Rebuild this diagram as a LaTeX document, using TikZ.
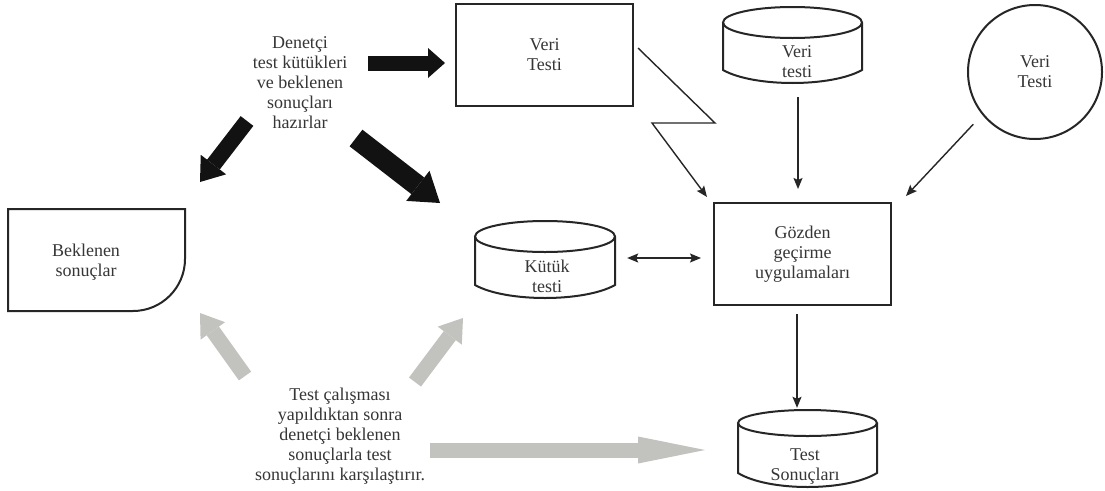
\documentclass[tikz,border=0pt]{standalone}
\usepackage{fontspec}
\setmainfont{Liberation Serif}
\usetikzlibrary{arrows.meta,calc}

\definecolor{ink}{HTML}{262626}
\definecolor{txt}{HTML}{363636}
\definecolor{fatblack}{HTML}{121212}
\definecolor{fatgray}{HTML}{C2C2BE}

\tikzset{
  boxline/.style={draw=ink, line width=2pt, line join=miter},
  box/.style={boxline, inner sep=0pt, text=txt, align=center,
    font=\fontsize{18}{20}\selectfont},
  lbl/.style={text=txt, align=center, inner sep=0pt,
    font=\fontsize{18}{20}\selectfont},
  flow/.style={draw=ink, line width=1.4pt,
    -{Stealth[length=11pt,width=9pt,inset=2pt]}},
  blackfat/.style n args={3}{draw=fatblack, line width=#1,
    -{Triangle[width=#2,length=#3,line width=0pt]}},
  grayfat/.style n args={3}{draw=fatgray, line width=#1,
    -{Triangle[width=#2,length=#3,line width=0pt]}},
}

% drum-shaped data store: name, centre x, top, width, half-height of lid,
% depth of the sides, depth of the lowest point of the base
\newcommand\drum[7]{%
  \node[inner sep=0pt, minimum width=#4pt, minimum height={#7pt-#3pt}]
    (#1) at (#2,{(#3+#7)/2}) {};
  \draw[boxline] ({#2-#4/2},{#3+#5}) -- ({#2-#4/2},#6)
    .. controls ({#2-#4/2+0.22*#4},{#6+(#7-#6)*4/3})
           and ({#2+#4/2-0.22*#4},{#6+(#7-#6)*4/3}) .. ({#2+#4/2},#6)
    -- ({#2+#4/2},{#3+#5});
  \draw[boxline] (#2,{#3+#5}) ellipse [x radius=#4/2, y radius=#5];
}

\begin{document}
\begin{tikzpicture}[x=1pt,y=-1pt]
\useasboundingbox (0,0) rectangle (1105,490);
\fill[white] (0,0) rectangle (1105,490);

% ---- process boxes and stores ----
\node[box, minimum width=177pt, minimum height=102pt] (vT) at (544.5,55) {Veri\\Testi};
\node[box, minimum width=177pt, minimum height=102pt] (gz) at (802.5,254)
  {Gözden\\geçirme\\uygulamaları};
\node[box, circle, minimum size=134pt] (circ) at (1035,72) {Veri\\Testi};

\drum{vt}{792.5}{7}{139}{15.5}{70}{83}
\node[lbl] (vtl) at (797,62) {Veri\\testi};

\drum{kt}{545}{221}{140}{15.5}{285}{298}
\node[lbl] (ktl) at (547,276) {Kütük\\testi};

\drum{ts}{807.5}{410}{139}{13}{473}{487}
\node[lbl] (tsl) at (805,467) {Test\\Sonuçları};

% document with rounded lower right corner
\draw[boxline] (8,209) -- (185,209) -- (185,259)
  .. controls (185,287.7) and (161.7,311) .. (133,311) -- (8,311) -- cycle;
\node[lbl] (bek) at (86,262) {Beklenen\\sonuçlar};

% ---- explanatory texts ----
\node[lbl] (hazir) at (300,83)
  {Denetçi\\test kütükleri\\ve beklenen\\sonuçları\\hazırlar};
\node[lbl] (karsi) at (340,436)
  {Test çalışması\\yapıldıktan sonra\\denetçi beklenen\\sonuçlarla test\\sonuçlarını karşılaştırır.};

% ---- thin connectors ----
\coordinate (zA) at (715,123);
\coordinate (zB) at (652,123);
\draw[flow] ($(vT.east)+(4,-7)$) -- (zA) -- (zB) -- ($(gz.north west)+(-6,-5)$);

\coordinate (colA) at (798,0);
\draw[flow, shorten <=14pt, shorten >=13pt] (vt.south -| colA) -- (gz.north -| colA);

\draw[flow, shorten <=13pt] (circ.219) -- ($(gz.north east)+(14,-6)$);

\coordinate (rowA) at (0,258);
\draw[flow, {Stealth[length=11pt,width=9pt,inset=2pt]}-{Stealth[length=11pt,width=9pt,inset=2pt]},
  shorten <=12pt, shorten >=12pt] (kt.east |- rowA) -- (gz.west |- rowA);

\coordinate (colB) at (797,0);
\draw[flow, shorten <=8pt, shorten >=2pt] (gz.south -| colB) -- (ts.north -| colB);

% ---- broad arrows: preparation ----
\coordinate (hzR) at (368,63);   \coordinate (toVT) at (445,63);
\coordinate (hzL) at (247,121);  \coordinate (toBek) at (200,182);
\coordinate (hzD) at (356,138);  \coordinate (toKt) at (440,203);
\draw[blackfat={15pt}{30pt}{17pt}] (hzR) -- (toVT);
\draw[blackfat={16pt}{32pt}{22pt}] (hzL) -- (toBek);
\draw[blackfat={21pt}{38pt}{28pt}] (hzD) -- (toKt);

% ---- broad arrows: comparison ----
\coordinate (ksL) at (245,376);  \coordinate (upBek) at (200,313);
\coordinate (ksR) at (415,382);  \coordinate (upKt) at (463,318);
\coordinate (ksE) at (430,450);  \coordinate (toTs) at (705,450);
\draw[grayfat={15pt}{30pt}{22pt}] (ksL) -- (upBek);
\draw[grayfat={15pt}{30pt}{22pt}] (ksR) -- (upKt);
\draw[grayfat={15pt}{27pt}{67pt}] (ksE) -- (toTs);
\end{tikzpicture}
\end{document}
